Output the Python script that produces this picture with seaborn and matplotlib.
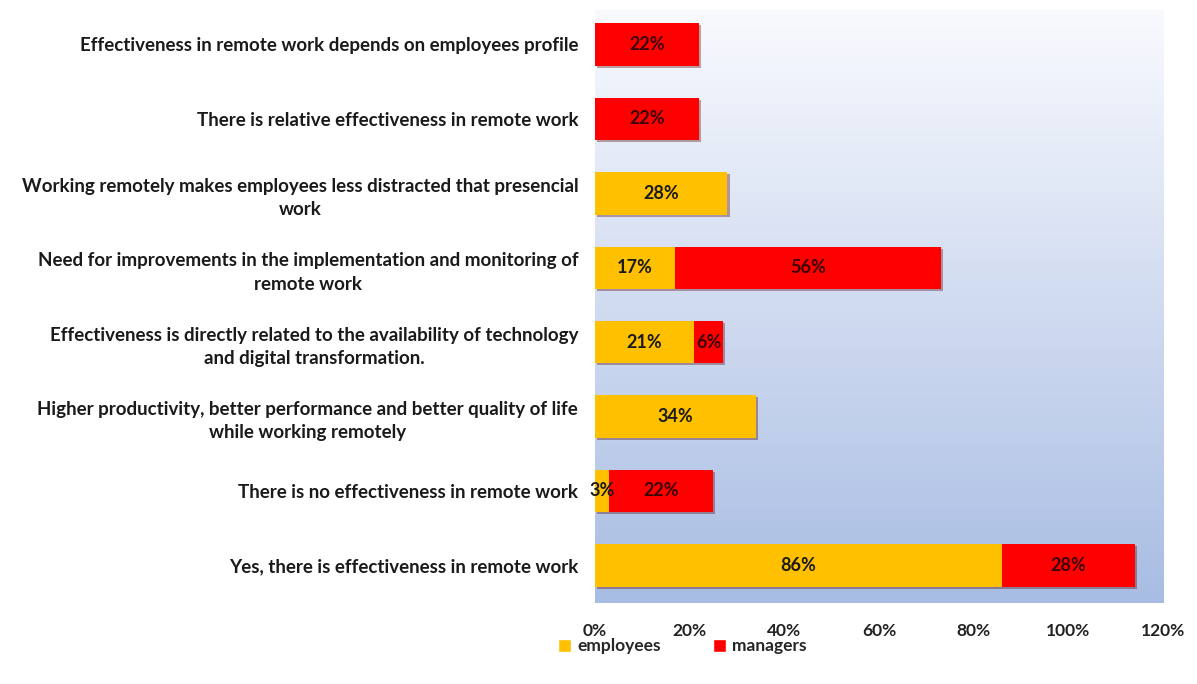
import numpy as np
import pandas as pd
import matplotlib
matplotlib.use("Agg")
import matplotlib.pyplot as plt
import matplotlib.patheffects as pe
from matplotlib.patches import Patch
import seaborn as sns

categories = [
    "Effectiveness in remote work depends on employees profile",
    "There is relative effectiveness in remote work",
    "Working remotely makes employees less distracted that presencial\nwork",
    "Need for improvements in the implementation and monitoring of\nremote work",
    "Effectiveness is directly related to the availability of technology\nand digital transformation.",
    "Higher productivity, better performance and better quality of life\nwhile working remotely",
    "There is no effectiveness in remote work",
    "Yes, there is effectiveness in remote work",
]
employees = [0, 0, 28, 17, 21, 34, 3, 86]
managers = [22, 22, 0, 56, 6, 0, 22, 28]
xticks = [0, 20, 40, 60, 80, 100, 120]

sns.set_theme(style="white")
plt.rcParams['font.family'] = ['Lato', 'DejaVu Sans']

df = pd.DataFrame({"cat": categories, "employees": employees, "managers": managers})
df["total"] = df["employees"] + df["managers"]

fig = plt.figure(figsize=(11.97, 6.84), dpi=100)
ax = fig.add_axes([0.497, 0.118, 0.4746, 0.867])

# gradient background
grad = np.linspace(0, 1, 256).reshape(-1, 1)
top = np.array([0.975, 0.98, 0.995])
bot = np.array([0.66, 0.74, 0.89])
img = top[None, None, :] * (1 - grad[:, :, None]) + bot[None, None, :] * grad[:, :, None]
ax.imshow(img, aspect="auto", extent=[0, 1, 0, 1], transform=ax.transAxes, zorder=0, origin="upper")

red = "#FF0000"
yellow = "#FFC000"
shadow = [pe.SimplePatchShadow(offset=(1.5, -1.5), alpha=0.35), pe.Normal()]

sns.barplot(data=df, y="cat", x="total", color=red, orient="h", width=0.57,
            saturation=1, ax=ax, zorder=2)
sns.barplot(data=df, y="cat", x="employees", color=yellow, orient="h", width=0.57,
            saturation=1, ax=ax, zorder=3)
for p in ax.patches:
    p.set_linewidth(0)
n = len(categories)
for p in ax.patches[:n]:
    p.set_path_effects(shadow)

for i, (e, m) in enumerate(zip(employees, managers)):
    if e > 0:
        ax.text(e / 2, i, f"{e}%", ha="center", va="center", fontsize=13,
                fontweight="bold", color="#1a1a1a", zorder=5)
    if m > 0:
        ax.text(e + m / 2, i, f"{m}%", ha="center", va="center", fontsize=13,
                fontweight="bold", color="#3a0000", zorder=5)

ax.set_xlim(0, 120)
ax.set_ylim(n - 1 + 0.51, -0.46)
ax.set_xticks(xticks)
ax.set_xticklabels([f"{t}%" for t in xticks], fontsize=12.5, fontweight="bold", color="#222222")
ax.tick_params(axis="x", length=0, pad=14)
ax.tick_params(axis="y", length=0, pad=12)
ax.set_yticks(range(n))
ax.set_yticklabels(categories, fontsize=13.5, fontweight="bold", color="#1a1a1a",
                   multialignment="center", linespacing=1.45)
ax.set_xlabel("")
ax.set_ylabel("")
for s in ax.spines.values():
    s.set_visible(False)

handles = [Patch(facecolor=yellow, label="employees"), Patch(facecolor=red, label="managers")]
fig.legend(handles=handles, loc="center", bbox_to_anchor=(0.570, 0.055), ncol=2,
           frameon=False, prop={"size": 12.5, "weight": "bold"}, handlelength=0.75,
           handleheight=0.75, handletextpad=0.35, columnspacing=3.0)

fig.savefig("out.png", dpi=100)
